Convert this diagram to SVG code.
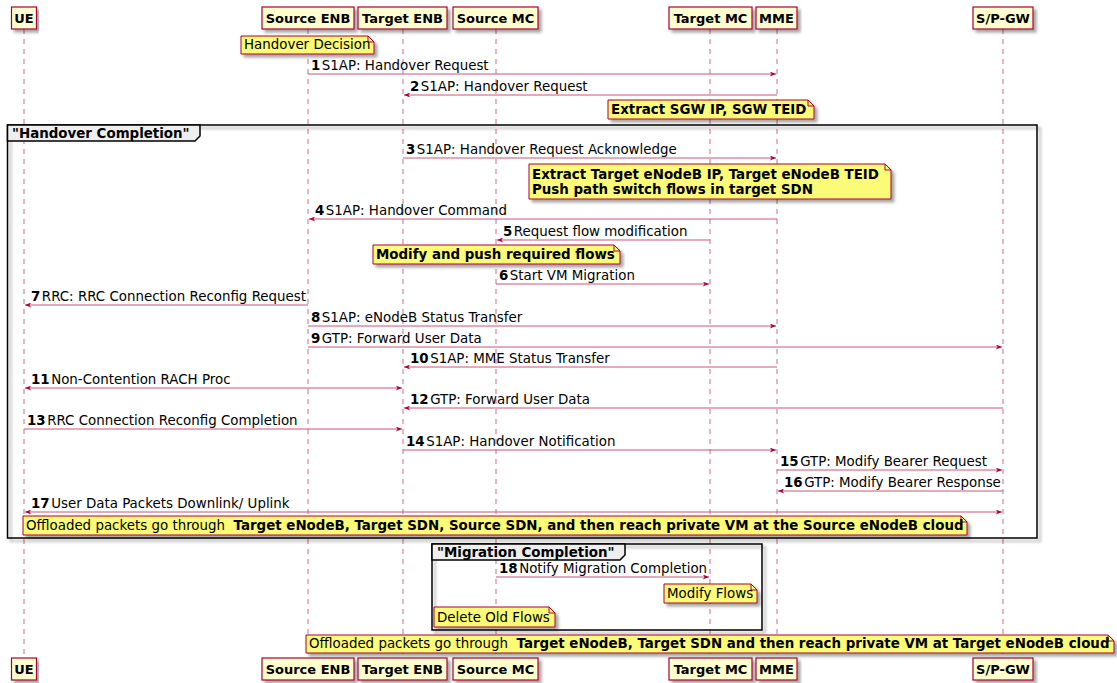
<svg xmlns="http://www.w3.org/2000/svg" width="1117" height="683" viewBox="0 0 1117 683">
<style>
text{font-family:"DejaVu Sans","Liberation Sans",sans-serif;font-size:13.4px;fill:#000}
.pt{font-weight:bold;text-anchor:middle;font-size:13px}
.b{font-weight:bold}
.pbox{fill:#FEFECE;stroke:#A80036;stroke-width:1.2}
.ll{stroke:#D06A8A;stroke-width:1;stroke-dasharray:5,5;fill:none}
.msg{stroke:#C8557A;stroke-width:1;fill:none}
.one{marker-end:url(#ah)}
.two{marker-start:url(#ah);marker-end:url(#ah)}
.note{fill:#FBFB77;stroke:#A80036;stroke-width:1}
.fold{fill:none;stroke:#A80036;stroke-width:1}
.frame{fill:none;stroke:#000;stroke-width:1.5}
.tab{fill:#EEEEEE;stroke:#000;stroke-width:1.5}
</style>
<defs>
<filter id="sh" x="-5%" y="-5%" width="115%" height="140%">
<feDropShadow dx="3" dy="3" stdDeviation="1.5" flood-color="#000" flood-opacity="0.35"/>
</filter>
<marker id="ah" viewBox="0 0 10 8" refX="10" refY="4" markerWidth="7" markerHeight="5" markerUnits="userSpaceOnUse" orient="auto-start-reverse">
<path d="M0,0 L10,4 L0,8 L3,4 Z" fill="#A80036"/>
</marker>
</defs>

<g id="lifelines">
<line class="ll" x1="24" y1="29" x2="24" y2="658"/>
<line class="ll" x1="308" y1="29" x2="308" y2="658"/>
<line class="ll" x1="403" y1="29" x2="403" y2="658"/>
<line class="ll" x1="496" y1="29" x2="496" y2="658"/>
<line class="ll" x1="710" y1="29" x2="710" y2="658"/>
<line class="ll" x1="777" y1="29" x2="777" y2="658"/>
<line class="ll" x1="1003" y1="29" x2="1003" y2="658"/>
</g>

<g id="frame-handover">
<rect class="frame" x="7.5" y="125" width="1029.5" height="413" filter="url(#sh)"/>
<path class="tab" d="M7.5,125 H200 V136 L195,141 H7.5 Z"/>
<text class="b" x="12" y="138">"Handover Completion"</text>
</g>
<g id="frame-migration">
<rect class="frame" x="432" y="544" width="330" height="86" filter="url(#sh)"/>
<path class="tab" d="M432,544 H625 V555 L620,560 H432 Z"/>
<text class="b" x="437" y="557">"Migration Completion"</text>
</g>

<g id="participant-ue">
<rect class="pbox" x="11.5" y="7" width="25" height="22" filter="url(#sh)"/>
<text class="pt" x="24" y="23">UE</text>
<rect class="pbox" x="11.5" y="658" width="25" height="22" filter="url(#sh)"/>
<text class="pt" x="24" y="674">UE</text>
</g>
<g id="participant-source-enb">
<rect class="pbox" x="262" y="7" width="92" height="22" filter="url(#sh)"/>
<text class="pt" x="308" y="23">Source ENB</text>
<rect class="pbox" x="262" y="658" width="92" height="22" filter="url(#sh)"/>
<text class="pt" x="308" y="674">Source ENB</text>
</g>
<g id="participant-target-enb">
<rect class="pbox" x="358" y="7" width="89" height="22" filter="url(#sh)"/>
<text class="pt" x="402.5" y="23">Target ENB</text>
<rect class="pbox" x="358" y="658" width="89" height="22" filter="url(#sh)"/>
<text class="pt" x="402.5" y="674">Target ENB</text>
</g>
<g id="participant-source-mc">
<rect class="pbox" x="453" y="7" width="85" height="22" filter="url(#sh)"/>
<text class="pt" x="495.5" y="23">Source MC</text>
<rect class="pbox" x="453" y="658" width="85" height="22" filter="url(#sh)"/>
<text class="pt" x="495.5" y="674">Source MC</text>
</g>
<g id="participant-target-mc">
<rect class="pbox" x="669" y="7" width="83" height="22" filter="url(#sh)"/>
<text class="pt" x="710.5" y="23">Target MC</text>
<rect class="pbox" x="669" y="658" width="83" height="22" filter="url(#sh)"/>
<text class="pt" x="710.5" y="674">Target MC</text>
</g>
<g id="participant-mme">
<rect class="pbox" x="756" y="7" width="41" height="22" filter="url(#sh)"/>
<text class="pt" x="776.5" y="23">MME</text>
<rect class="pbox" x="756" y="658" width="41" height="22" filter="url(#sh)"/>
<text class="pt" x="776.5" y="674">MME</text>
</g>
<g id="participant-spgw">
<rect class="pbox" x="973" y="7" width="60" height="22" filter="url(#sh)"/>
<text class="pt" x="1003" y="23">S/P-GW</text>
<rect class="pbox" x="973" y="658" width="60" height="22" filter="url(#sh)"/>
<text class="pt" x="1003" y="674">S/P-GW</text>
</g>

<g id="connectors">
<line class="msg one" x1="308" y1="74" x2="776" y2="74"/>
<text x="311" y="70"><tspan class="b">1</tspan><tspan dx="1.5">S1AP: Handover Request</tspan></text>
<line class="msg one" x1="777" y1="95" x2="404" y2="95"/>
<text x="410" y="91"><tspan class="b">2</tspan><tspan dx="1.5">S1AP: Handover Request</tspan></text>
<line class="msg one" x1="403" y1="158" x2="776" y2="158"/>
<text x="406" y="154"><tspan class="b">3</tspan><tspan dx="1.5">S1AP: Handover Request Acknowledge</tspan></text>
<line class="msg one" x1="777" y1="219" x2="309" y2="219"/>
<text x="315" y="215"><tspan class="b">4</tspan><tspan dx="1.5">S1AP: Handover Command</tspan></text>
<line class="msg one" x1="710" y1="240" x2="497" y2="240"/>
<text x="503" y="236"><tspan class="b">5</tspan><tspan dx="1.5">Request flow modification</tspan></text>
<line class="msg one" x1="496" y1="284" x2="709" y2="284"/>
<text x="499" y="280"><tspan class="b">6</tspan><tspan dx="1.5">Start VM Migration</tspan></text>
<line class="msg one" x1="308" y1="305" x2="25" y2="305"/>
<text x="31" y="301"><tspan class="b">7</tspan><tspan dx="1.5">RRC: RRC Connection Reconfig Request</tspan></text>
<line class="msg one" x1="308" y1="326" x2="776" y2="326"/>
<text x="311" y="322"><tspan class="b">8</tspan><tspan dx="1.5">S1AP: eNodeB Status Transfer</tspan></text>
<line class="msg one" x1="308" y1="347" x2="1002" y2="347"/>
<text x="311" y="343"><tspan class="b">9</tspan><tspan dx="1.5">GTP: Forward User Data</tspan></text>
<line class="msg one" x1="777" y1="367" x2="404" y2="367"/>
<text x="410" y="363"><tspan class="b">10</tspan><tspan dx="1.5">S1AP: MME Status Transfer</tspan></text>
<line class="msg two" x1="25" y1="388" x2="402" y2="388"/>
<text x="31" y="384"><tspan class="b">11</tspan><tspan dx="1.5">Non-Contention RACH Proc</tspan></text>
<line class="msg one" x1="1003" y1="408" x2="404" y2="408"/>
<text x="410" y="404"><tspan class="b">12</tspan><tspan dx="1.5">GTP: Forward User Data</tspan></text>
<line class="msg one" x1="24" y1="429" x2="402" y2="429"/>
<text x="27" y="425"><tspan class="b">13</tspan><tspan dx="1.5">RRC Connection Reconfig Completion</tspan></text>
<line class="msg one" x1="403" y1="450" x2="776" y2="450"/>
<text x="406" y="446"><tspan class="b">14</tspan><tspan dx="1.5">S1AP: Handover Notification</tspan></text>
<line class="msg one" x1="777" y1="470" x2="1002" y2="470"/>
<text x="780" y="466"><tspan class="b">15</tspan><tspan dx="1.5">GTP: Modify Bearer Request</tspan></text>
<line class="msg one" x1="1003" y1="491" x2="778" y2="491"/>
<text x="784" y="487"><tspan class="b">16</tspan><tspan dx="1.5">GTP: Modify Bearer Response</tspan></text>
<line class="msg two" x1="25" y1="512" x2="1002" y2="512"/>
<text x="31" y="508"><tspan class="b">17</tspan><tspan dx="1.5">User Data Packets Downlink/ Uplink</tspan></text>
<line class="msg one" x1="496" y1="577" x2="709" y2="577"/>
<text x="499" y="573"><tspan class="b">18</tspan><tspan dx="1.5">Notify Migration Completion</tspan></text>
</g>

<g id="note-handover-decision">
<path class="note" d="M241,36 H368 L374,42 V54 H241 Z" filter="url(#sh)"/>
<path class="fold" d="M368,36 V42 H374"/>
<text x="244" y="49">Handover Decision</text>
</g>
<g id="note-extract-sgw">
<path class="note" d="M608,100 H808 L814,106 V119 H608 Z" filter="url(#sh)"/>
<path class="fold" d="M808,100 V106 H814"/>
<text class="b" x="611" y="114">Extract SGW IP, SGW TEID</text>
</g>
<g id="note-extract-target">
<path class="note" d="M529,164 H885 L891,170 V199 H529 Z" filter="url(#sh)"/>
<path class="fold" d="M885,164 V170 H891"/>
<text class="b" x="532" y="179">Extract Target eNodeB IP, Target eNodeB TEID</text>
<text class="b" x="532" y="194">Push path switch flows in target SDN</text>
</g>
<g id="note-modify-push">
<path class="note" d="M373,245 H614 L620,251 V264 H373 Z" filter="url(#sh)"/>
<path class="fold" d="M614,245 V251 H620"/>
<text class="b" x="376" y="259">Modify and push required flows</text>
</g>
<g id="note-offloaded-source">
<path class="note" d="M23,516 H961 L967,522 V535 H23 Z" filter="url(#sh)"/>
<path class="fold" d="M961,516 V522 H967"/>
<text x="26" y="530" xml:space="preserve">Offloaded packets go through  <tspan class="b">Target eNodeB, Target SDN, Source SDN, and then reach private VM at the Source eNodeB cloud</tspan></text>
</g>
<g id="note-modify-flows">
<path class="note" d="M664,584 H751 L757,590 V603 H664 Z" filter="url(#sh)"/>
<path class="fold" d="M751,584 V590 H757"/>
<text x="667" y="598">Modify Flows</text>
</g>
<g id="note-delete-flows">
<path class="note" d="M434,607 H549 L555,613 V627 H434 Z" filter="url(#sh)"/>
<path class="fold" d="M549,607 V613 H555"/>
<text x="437" y="622">Delete Old Flows</text>
</g>
<g id="note-offloaded-target">
<path class="note" d="M306,635 H1108 L1114,641 V653 H306 Z" filter="url(#sh)"/>
<path class="fold" d="M1108,635 V641 H1114"/>
<text x="309" y="648" xml:space="preserve">Offloaded packets go through  <tspan class="b">Target eNodeB, Target SDN and then reach private VM at Target eNodeB cloud</tspan></text>
</g>
</svg>
